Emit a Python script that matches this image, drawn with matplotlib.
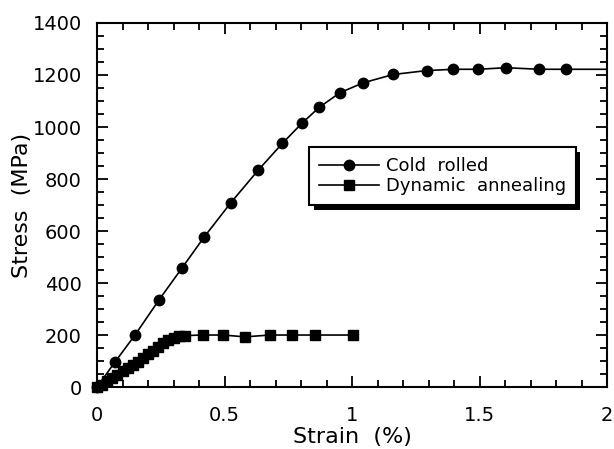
import matplotlib
matplotlib.use("Agg")
import matplotlib.pyplot as plt
from matplotlib.patches import Rectangle
from matplotlib.ticker import MultipleLocator

# Cold rolled sample
cold_strain = [0.0, 0.071, 0.149, 0.243, 0.332, 0.421, 0.525, 0.633, 0.727, 0.803,
               0.872, 0.953, 1.044, 1.162, 1.293, 1.397, 1.495, 1.604, 1.735, 1.839]
cold_stress = [0, 97, 200, 335, 456, 578, 709, 835, 937, 1014,
               1076, 1132, 1170, 1202, 1217, 1222, 1222, 1228, 1222, 1222]
# curve runs on to the right edge without a marker
cold_end = (2.0, 1222)

# Dynamic annealing sample
dyn_strain = [0.0, 0.02, 0.04, 0.06, 0.08, 0.10, 0.12, 0.14, 0.16, 0.18, 0.20,
              0.22, 0.24, 0.26, 0.28, 0.30, 0.32, 0.345,
              0.417, 0.495, 0.580, 0.678, 0.763, 0.855, 1.005]
dyn_stress = [0, 8, 22, 35, 48, 60, 72, 85, 98, 112, 126,
              140, 155, 170, 182, 190, 195, 198,
              200, 200, 193, 200, 200, 200, 200]

plt.rcParams['font.family'] = ['DejaVu Sans']
plt.rcParams['font.size'] = 13

fig = plt.figure(figsize=(6.14, 4.49), dpi=100)
ax = fig.add_axes([0.158, 0.138, 0.8306, 0.8108])

ax.plot(cold_strain + [cold_end[0]], cold_stress + [cold_end[1]], '-', color='k',
        lw=1.2, marker='o', ms=7.5, markevery=list(range(len(cold_strain))),
        label='Cold  rolled', clip_on=False)
ax.plot(dyn_strain, dyn_stress, '-', color='k', lw=1.2, marker='s', ms=6.5,
        label='Dynamic  annealing', clip_on=False)

ax.set_xlim(0, 2)
ax.set_ylim(0, 1400)
ax.xaxis.set_major_locator(MultipleLocator(0.5))
ax.xaxis.set_minor_locator(MultipleLocator(0.1))
ax.yaxis.set_major_locator(MultipleLocator(200))
ax.yaxis.set_minor_locator(MultipleLocator(50))
ax.set_xticks([0, 0.5, 1, 1.5, 2], ['0', '0.5', '1', '1.5', '2'])
ax.tick_params(which='both', direction='in', top=True, right=True, width=1.3)
ax.tick_params(which='major', length=8, labelsize=14)
ax.tick_params(which='minor', length=5)
ax.tick_params(axis='x', which='major', pad=14)
ax.tick_params(axis='y', which='major', pad=11)
for sp in ax.spines.values():
    sp.set_linewidth(1.5)

ax.set_xlabel('Strain  (%)', fontsize=16, labelpad=1)
ax.set_ylabel('Stress  (MPa)', fontsize=16, labelpad=0)

leg = ax.legend(loc='upper left', bbox_to_anchor=(0.416, 0.659), borderaxespad=0,
                fancybox=False, edgecolor='k', framealpha=1, handlelength=3.3,
                handletextpad=0.4, labelspacing=0.1, borderpad=0.55,
                numpoints=1)
leg.get_frame().set_linewidth(1.5)
leg.set_zorder(5)

# solid drop shadow under the legend box
fig.canvas.draw()
bb = leg.get_window_extent().transformed(fig.transFigure.inverted())
dx, dy = 4.5 / 614, 5 / 449
shadow = Rectangle((bb.x0 + dx, bb.y0 - dy), bb.width, bb.height,
                   transform=fig.transFigure, facecolor='k', edgecolor='none',
                   zorder=4)
ax.add_artist(shadow)
shadow.set_clip_on(False)

fig.savefig('out.png', dpi=100)
